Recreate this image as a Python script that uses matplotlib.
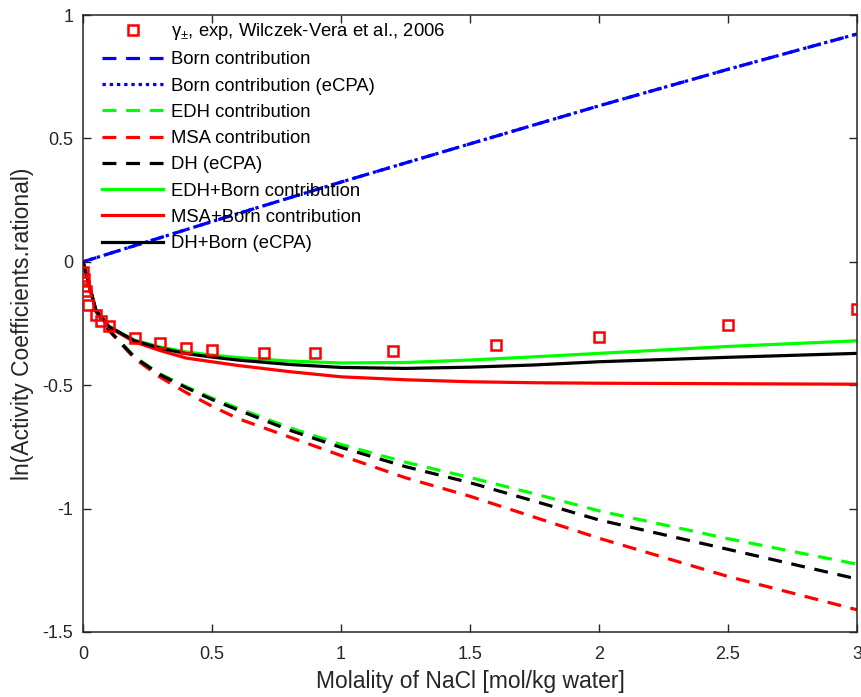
import matplotlib
matplotlib.use("Agg")
import matplotlib.pyplot as plt

plt.rcParams['font.family'] = ['Liberation Sans', 'DejaVu Sans']
plt.rcParams['axes.unicode_minus'] = False
plt.rcParams['mathtext.fontset'] = 'custom'
plt.rcParams['mathtext.rm'] = 'Liberation Sans'
plt.rcParams['mathtext.it'] = 'Liberation Sans'
plt.rcParams['mathtext.bf'] = 'Liberation Sans:bold'
plt.rcParams['lines.scale_dashes'] = False

# ---------------- data ----------------
exp_m = [0.001, 0.002, 0.005, 0.01, 0.02, 0.05, 0.07, 0.1, 0.2, 0.3, 0.4, 0.5,
         0.7, 0.9, 1.2, 1.6, 2.0, 2.5, 3.0]
exp_ln_gamma = [-0.04, -0.07, -0.10, -0.12, -0.175, -0.216, -0.239, -0.26, -0.31,
                -0.33, -0.348, -0.358, -0.371, -0.371, -0.36, -0.337, -0.306,
                -0.255, -0.192]

born_m = [0, 0.5, 1.0, 1.5, 2.0, 2.5, 3.0]
born = [0, 0.163, 0.323, 0.478, 0.632, 0.78, 0.923]
born_ecpa = [0, 0.163, 0.323, 0.478, 0.632, 0.78, 0.923]

model_m = [0, 0.05, 0.1, 0.2, 0.3, 0.4, 0.5, 0.6, 0.8, 1.0, 1.25, 1.5, 1.75, 2.0, 2.5, 3.0]
edh = [0, -0.20, -0.275, -0.385, -0.455, -0.506, -0.552, -0.593, -0.672, -0.74,
       -0.812, -0.874, -0.94, -1.009, -1.122, -1.225]
msa = [0, -0.20, -0.278, -0.392, -0.468, -0.53, -0.585, -0.635, -0.71, -0.785,
       -0.875, -0.95, -1.035, -1.12, -1.275, -1.41]
dh_ecpa = [0, -0.20, -0.276, -0.387, -0.458, -0.51, -0.558, -0.60, -0.682, -0.752,
           -0.83, -0.895, -0.97, -1.046, -1.165, -1.285]
edh_born = [0, -0.195, -0.262, -0.318, -0.345, -0.365, -0.378, -0.388, -0.402, -0.41,
            -0.408, -0.398, -0.385, -0.371, -0.343, -0.32]
msa_born = [0, -0.197, -0.265, -0.325, -0.36, -0.39, -0.405, -0.42, -0.445, -0.466,
            -0.478, -0.486, -0.49, -0.492, -0.494, -0.496]
dh_born_ecpa = [0, -0.195, -0.262, -0.32, -0.35, -0.372, -0.386, -0.398, -0.416, -0.428,
                -0.432, -0.427, -0.418, -0.405, -0.387, -0.371]

labels = [r'$\gamma_{\pm}$, exp, Wilczek-Vera et al., 2006',
          'Born contribution', 'Born contribution (eCPA)',
          'EDH contribution', 'MSA contribution', 'DH (eCPA)',
          'EDH+Born contribution', 'MSA+Born contribution', 'DH+Born (eCPA)']

xticks = [0, 0.5, 1, 1.5, 2, 2.5, 3]
xticklabels = ['0', '0.5', '1', '1.5', '2', '2.5', '3']
yticks = [-1.5, -1, -0.5, 0, 0.5, 1]
yticklabels = ['-1.5', '-1', '-0.5', '0', '0.5', '1']

# ---------------- plot ----------------
fig = plt.figure(figsize=(8.61, 6.97), dpi=100)
ax = fig.add_axes([83/861, (697-632)/697, (857-83)/861, (632-15)/697])

lw = 2.3
dash = (10, 7)
dot = (2.4, 2.8)

ax.plot(exp_m, exp_ln_gamma, linestyle='none', marker='s', markersize=7.5,
        markerfacecolor='none', markeredgecolor='#ff0000', markeredgewidth=1.8,
        label=labels[0], zorder=5)
ax.plot(born_m, born, color='#0000ff', lw=lw, dashes=dash, label=labels[1])
ax.plot(born_m, born_ecpa, color='#0000ff', lw=lw, dashes=dot, label=labels[2])
ax.plot(model_m, edh, color='#00ff00', lw=lw, dashes=dash, label=labels[3])
ax.plot(model_m, msa, color='#ff0000', lw=lw, dashes=dash, label=labels[4])
ax.plot(model_m, dh_ecpa, color='black', lw=lw, dashes=dash, label=labels[5])
ax.plot(model_m, edh_born, color='#00ff00', lw=lw, label=labels[6])
ax.plot(model_m, msa_born, color='#ff0000', lw=lw, label=labels[7])
ax.plot(model_m, dh_born_ecpa, color='black', lw=lw, label=labels[8])

ax.set_xlim(0, 3)
ax.set_ylim(-1.5, 1)
ax.set_xticks(xticks)
ax.set_xticklabels(xticklabels)
ax.set_yticks(yticks)
ax.set_yticklabels(yticklabels)
ax.tick_params(direction='in', top=True, right=True, length=5.5, width=1.0,
               colors='#262626', labelsize=13)
ax.tick_params(axis='x', pad=10)
ax.tick_params(axis='y', pad=7)
for s in ax.spines.values():
    s.set_color('#262626')
    s.set_linewidth(1.1)

ax.set_xlabel('Molality of NaCl [mol/kg water]', fontsize=16.5, color='#262626',
              labelpad=5)
ax.set_ylabel('ln(Activity Coefficients.rational)', fontsize=16.5, color='#262626',
              labelpad=6)

leg = ax.legend(loc='upper left', bbox_to_anchor=(0.0176, 0.999), frameon=False,
                fontsize=13.3, handlelength=3.3, handletextpad=0.4,
                labelspacing=0.5, borderpad=0.3, borderaxespad=0.0)

fig.savefig('out.png', dpi=100)
